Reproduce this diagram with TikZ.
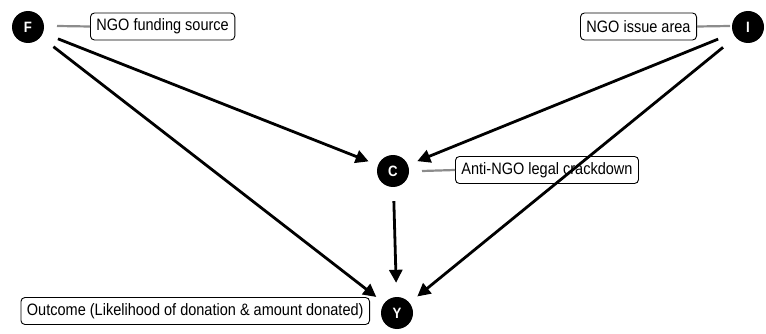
\documentclass[tikz,border=0pt]{standalone}
\usepackage{fontspec}
\setmainfont{Liberation Sans}[FakeStretch=0.88]
\usetikzlibrary{arrows.meta}
\begin{document}
\begin{tikzpicture}[x=1pt,y=-1pt,
  var/.style={circle,fill=black,minimum size=32pt,inner sep=0pt,text=white,font=\fontsize{15}{16}\selectfont\bfseries},
  lbl/.style={draw=black,rounded corners=4pt,line width=0.9pt,inner xsep=6pt,minimum height=27pt,font=\fontsize{16.5}{18}\selectfont},
  lead/.style={draw=gray!90,line width=2.2pt},
  edge/.style={draw=black,line width=2.8pt,-{Triangle[length=13pt,width=13pt]},shorten <=16pt,shorten >=10pt}]
\useasboundingbox (0,0) rectangle (766,334);
\node[var] (F) at (28,27) {F};
\node[var] (I) at (748,27) {I};
\node[var] (C) at (393,171) {C};
\node[var] (Y) at (397,313) {Y};
\node[lbl,anchor=west] (lf) at (90,26.5) {NGO funding source};
\node[lbl,anchor=east] (li) at (697,26.5) {NGO issue area};
\node[lbl,anchor=west] (lc) at (455,170) {Anti-NGO legal crackdown};
\node[lbl,anchor=east] (ly) at (370,311) {Outcome (Likelihood of donation \& amount donated)};
\coordinate (fa) at (57,26);
\coordinate (ia) at (730,26);
\coordinate (ca) at (422,171);
\draw[lead] (fa) -- (lf.west);
\draw[lead] (ia) -- (li.east);
\draw[lead] (ca) -- (lc.west);
\draw[edge] (F) -- (C);
\draw[edge] (F) -- (Y);
\draw[edge] (I) -- (C);
\draw[edge] (I) -- (Y);
\draw[edge,shorten <=14pt,shorten >=14pt] (C) -- (Y);
\end{tikzpicture}
\end{document}
